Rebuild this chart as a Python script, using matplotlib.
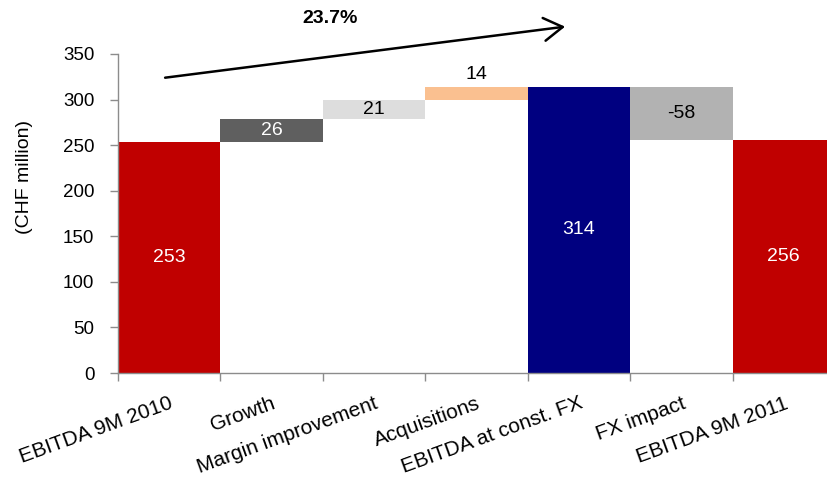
import matplotlib
matplotlib.use("Agg")
import matplotlib.pyplot as plt
import numpy as np

plt.rcParams['font.family'] = ['Liberation Sans', 'DejaVu Sans']

categories = ["EBITDA 9M 2010", "Growth", "Margin improvement", "Acquisitions",
              "EBITDA at const. FX", "FX impact", "EBITDA 9M 2011"]
values = [253, 26, 21, 14, 314, -58, 256]
is_total = [True, False, False, False, True, False, True]
colors = ["#C00000", "#5F5F5F", "#DDDDDD", "#FAC090", "#000080", "#B2B2B2", "#C00000"]
label_colors = ["white", "white", "black", "black", "white", "black", "white"]
growth_label = "23.7%"
yticks = [0, 50, 100, 150, 200, 250, 300, 350]

# waterfall bottoms / heights
bottoms, heights = [], []
running = 0
for v, tot in zip(values, is_total):
    if tot:
        bottoms.append(0)
        heights.append(v)
        running = v
    else:
        bottoms.append(running if v >= 0 else running + v)
        heights.append(abs(v))
        running += v

fig = plt.figure(figsize=(8.28, 4.78), dpi=100)
W, H = 828, 478
left_px, right_px, top_px, bot_px = 118, 835, 54, 373
ax = fig.add_axes([left_px / W, (H - bot_px) / H, (right_px - left_px) / W, (bot_px - top_px) / H])

x = np.arange(len(categories))
ax.bar(x, heights, bottom=bottoms, width=1.0, color=colors, edgecolor="none")

for i, (v, b, h) in enumerate(zip(values, bottoms, heights)):
    if categories[i] == "Acquisitions":
        ypos = b + h + 13
    else:
        ypos = b + h / 2
    ax.text(x[i], ypos, f"{v}", ha="center", va="center",
            fontsize=14, color=label_colors[i])

ax.set_xlim(-0.5, len(categories) - 0.5)
ax.set_ylim(0, 350)
ax.set_yticks(yticks)

axis_grey = "#8C8C8C"
for side in ("top", "right"):
    ax.spines[side].set_visible(False)
for side in ("left", "bottom"):
    ax.spines[side].set_color(axis_grey)
    ax.spines[side].set_linewidth(1.0)

ax.tick_params(axis="y", length=6, width=1, color=axis_grey, pad=11, labelsize=13.5)

# category labels at bar centres, boundary ticks as minor ticks
ax.set_xticks(x)
ax.set_xticklabels(categories, rotation=20, ha="right", rotation_mode="anchor", fontsize=15)
ax.tick_params(axis="x", which="major", length=0, pad=15)
ax.set_xticks(np.arange(-0.5, len(categories) - 0.4, 1.0), minor=True)
ax.tick_params(axis="x", which="minor", length=6, width=1, color=axis_grey)

fig.text(25 / W, 1 - 177 / H, "(CHF million)", rotation=90, ha="center", va="center", fontsize=14)

# growth arrow above the chart
ax.annotate("", xy=(3.865, 380), xytext=(-0.04, 324),
            arrowprops=dict(arrowstyle="->,head_length=0.9,head_width=0.55",
                            mutation_scale=15, lw=1.8, color="black",
                            shrinkA=0, shrinkB=0),
            annotation_clip=False)
ax.text(1.57, 389, growth_label, ha="center", va="center", fontsize=14,
        fontweight="bold", clip_on=False)

fig.savefig("out.png", dpi=100)
